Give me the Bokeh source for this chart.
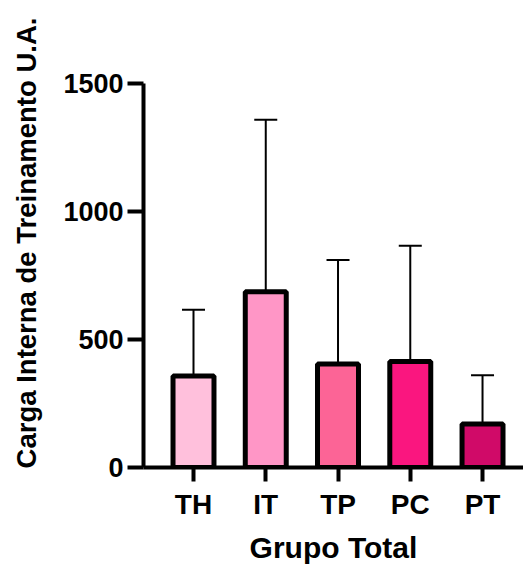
from bokeh.plotting import figure
from bokeh.models import ColumnDataSource, FixedTicker, Whisker, TeeHead
from bokeh.embed import file_html
from bokeh.resources import INLINE

# Data
categories = ["TH", "IT", "TP", "PC", "PT"]
means = [357, 687, 404, 414, 170]
sds = [259, 671, 407, 452, 190]
colors = ["#FFC0DC", "#FF96C6", "#FC6496", "#FA167F", "#D00A68"]
y_ticks = [0, 500, 1000, 1500]

xs = list(range(len(categories)))
upper = [m + s for m, s in zip(means, sds)]

src = ColumnDataSource(dict(x=xs, top=means, upper=upper, color=colors, cat=categories))

FONT = "Liberation Sans"

p = figure(width=523, height=566, output_backend="svg", toolbar_location=None,
           x_range=(-0.692, 4.567), y_range=(0, 1754),
           min_border_left=143, min_border_right=0, min_border_top=18, min_border_bottom=99)
p.outline_line_color = None
p.xgrid.visible = False
p.ygrid.visible = False
p.background_fill_color = "white"
p.border_fill_color = "white"

# error bars (upper only)
wh = Whisker(base="x", lower="top", upper="upper", source=src,
             line_color="black", line_width=2,
             lower_head=None,
             upper_head=TeeHead(size=23, line_color="black", line_width=2))
p.add_layout(wh)

p.vbar(x="x", top="top", bottom=0, width=0.567, source=src,
       fill_color="color", line_color="black", line_width=5)

# y axis
yax = p.yaxis[0]
yax.ticker = FixedTicker(ticks=y_ticks)
yax.bounds = (0, 1500)
yax.axis_line_width = 4
yax.major_tick_line_width = 4
yax.major_tick_out = 16
yax.major_tick_in = 0
yax.minor_tick_line_color = None
yax.major_label_text_font = FONT
yax.major_label_text_font_style = "bold"
yax.major_label_text_font_size = "27px"
yax.major_label_text_color = "black"
yax.major_label_standoff = 4
yax.axis_label = "Carga Interna de Treinamento U.A."
yax.axis_label_text_font = FONT
yax.axis_label_text_font_style = "bold"
yax.axis_label_text_font_size = "27.5px"
yax.axis_label_text_color = "black"
yax.axis_label_standoff = 18

# x axis
xax = p.xaxis[0]
xax.ticker = FixedTicker(ticks=xs)
xax.major_label_overrides = {i: c for i, c in zip(xs, categories)}
xax.axis_line_width = 4
xax.major_tick_line_width = 4
xax.major_tick_out = 14
xax.major_tick_in = 0
xax.minor_tick_line_color = None
xax.major_label_text_font = FONT
xax.major_label_text_font_style = "bold"
xax.major_label_text_font_size = "28px"
xax.major_label_text_color = "black"
xax.major_label_standoff = 7
xax.axis_label = "Grupo Total"
xax.axis_label_text_font = FONT
xax.axis_label_text_font_style = "bold"
xax.axis_label_text_font_size = "30px"
xax.axis_label_text_color = "black"
xax.axis_label_standoff = 8

open("out.html", "w").write(file_html(p, INLINE))
